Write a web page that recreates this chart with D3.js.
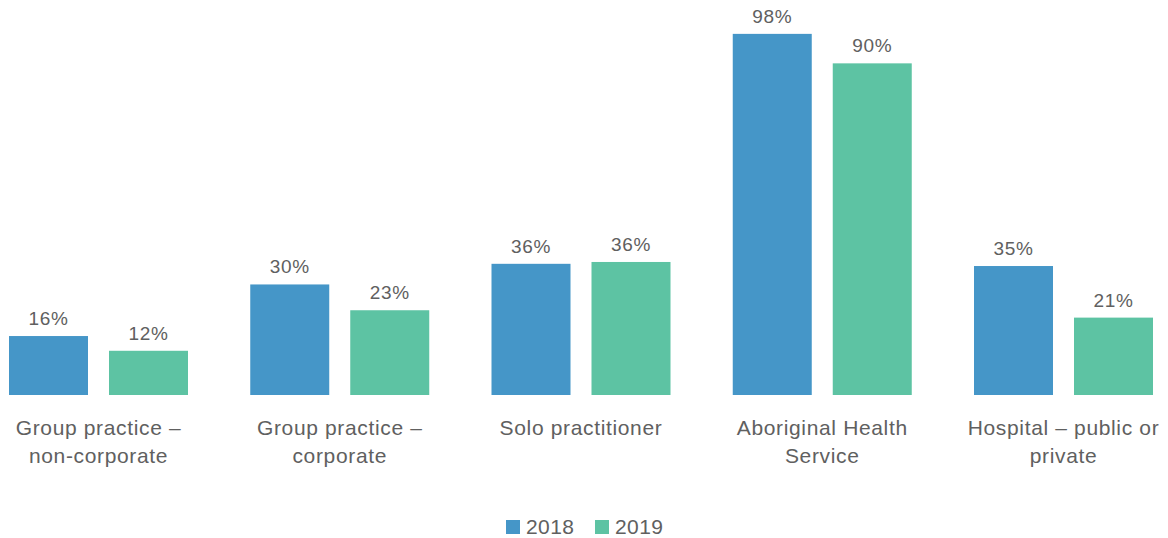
<!DOCTYPE html>
<html>
<head>
<meta charset="utf-8">
<script src="https://cdn.jsdelivr.net/npm/d3@7/dist/d3.min.js"></script>
<style>
  html, body { margin: 0; padding: 0; background: #fff; }
  svg { display: block; font-family: "Liberation Sans", Arial, sans-serif; }
</style>
</head>
<body>
<svg id="chart"></svg>
<script>
(function(){
"use strict";

// categories (line breaks as in the original)
const categories = [
  "Group practice –\nnon-corporate",
  "Group practice –\ncorporate",
  "Solo practitioner",
  "Aboriginal Health\nService",
  "Hospital – public or\nprivate"
];
const seriesNames = ["2018", "2019"];
const values2018 = [16, 30, 35.6, 98, 35];
const values2019 = [12, 23, 36.1, 90, 21];
const colors = ["#4596c8", "#5dc3a3"];

const width = 1168, height = 538;
const baseY = 395;
const step = 241.25;
const firstCenter = 98.5;
const textColor = "#606060";

let svg = d3.select("#chart").attr("width", width).attr("height", height);

let x0 = d3.scaleBand()
  .domain(categories)
  .range([firstCenter - step / 2, firstCenter + step * (categories.length - 0.5)])
  .paddingInner(0);

let x1 = d3.scaleBand()
  .domain(seriesNames)
  .range([0, 179])
  .paddingInner(0.21);

let y = d3.scaleLinear().domain([0, 100]).range([baseY, 26.5]);

let rows = categories.map((c, i) => ({cat: c, vals: [values2018[i], values2019[i]]}));

let group = svg.selectAll("g.grp")
  .data(rows)
  .enter().append("g")
    .attr("class", "grp")
    .attr("transform", d => "translate(" + (x0(d.cat) + x0.bandwidth() / 2 - 89.5) + ",0)");

let bar = group.selectAll("g.bar")
  .data(d => d.vals.map((v, j) => ({v, s: seriesNames[j], j})))
  .enter().append("g").attr("class", "bar");

bar.append("rect")
  .attr("x", d => x1(d.s))
  .attr("y", d => y(d.v))
  .attr("width", x1.bandwidth())
  .attr("height", d => baseY - y(d.v))
  .attr("fill", d => colors[d.j]);

bar.append("text")
  .attr("x", d => x1(d.s) + x1.bandwidth() / 2)
  .attr("y", d => y(d.v) - 11)
  .attr("text-anchor", "middle")
  .attr("font-size", 19)
  .attr("letter-spacing", 0.6)
  .attr("fill", textColor)
  .text(d => Math.round(d.v) + "%");

// category labels
group.append("text")
  .attr("text-anchor", "middle")
  .attr("font-size", 21)
  .attr("letter-spacing", 0.65)
  .attr("fill", textColor)
  .selectAll("tspan")
  .data(d => d.cat.split("\n"))
  .enter().append("tspan")
    .attr("x", 89.5)
    .attr("y", (d, i) => 435 + i * 28)
    .text(d => d);

// legend
let legendX = [506, 595];
let legend = svg.selectAll("g.leg")
  .data(seriesNames)
  .enter().append("g")
    .attr("class", "leg")
    .attr("transform", (d, i) => "translate(" + legendX[i] + ",520)");

legend.append("rect")
  .attr("width", 14).attr("height", 14)
  .attr("fill", (d, i) => colors[i]);

legend.append("text")
  .attr("x", 20)
  .attr("y", 14)
  .attr("font-size", 21)
  .attr("letter-spacing", 0.4)
  .attr("fill", textColor)
  .text(d => d);

})();
</script>
</body>
</html>
